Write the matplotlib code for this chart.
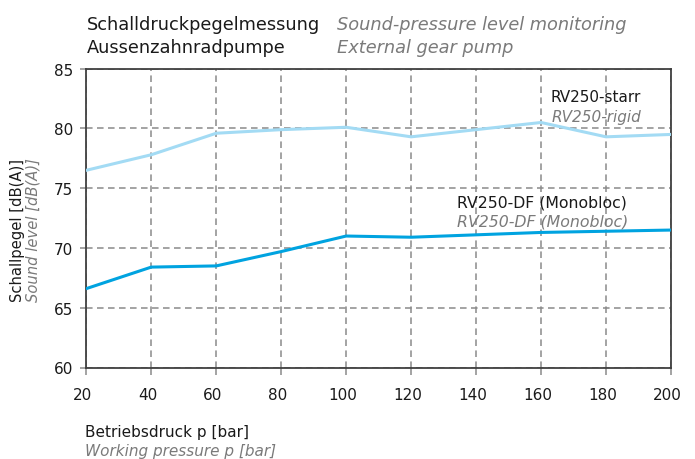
import matplotlib.pyplot as plt
from matplotlib.transforms import ScaledTranslation

plt.rcParams["font.family"] = ["DejaVu Sans"]

# pressure steps in bar
pressure = [20, 40, 60, 80, 100, 120, 140, 160, 180, 200]
# sound level, rigid mounting
rigid = [76.5, 77.8, 79.6, 79.9, 80.1, 79.3, 79.9, 80.5, 79.3, 79.5]
# sound level, DF monobloc
monobloc = [66.6, 68.4, 68.5, 69.7, 71.0, 70.9, 71.1, 71.3, 71.4, 71.5]

W, H = 695, 460
grey = "#7a7a7a"
ink = "#1a1a1a"
fs = 11

fig = plt.figure(figsize=(W / 100, H / 100), dpi=100)
ax = fig.add_axes([86.3 / W, 1 - 368.5 / H, (671 - 86.3) / W, (368.5 - 69.7) / H])

ax.plot(pressure, rigid, color="#a3dbf4", lw=2.2, zorder=3)
ax.plot(pressure, monobloc, color="#00a3e0", lw=2.2, zorder=3)

ax.set_xlim(20, 200)
ax.set_ylim(60, 85)
ax.set_xticks(range(20, 201, 20))
ax.set_yticks(range(60, 86, 5))
ax.grid(True, color="#8a8a8a", ls=(0, (4.3, 2.9)), lw=1.1)
ax.tick_params(direction="out", length=5, width=1.1, color="#8a8a8a",
               labelsize=fs, labelcolor=ink)
ax.tick_params(axis="x", pad=9)
ax.tick_params(axis="y", length=4.3, pad=5)
shift = ScaledTranslation(-3.5 / 100, 0, fig.dpi_scale_trans)
for lab in ax.get_xticklabels():
    lab.set_transform(lab.get_transform() + shift)
for s in ax.spines.values():
    s.set_color("#404040")
    s.set_linewidth(1.3)


def px(x, y):
    return x / W, 1 - y / H


# curve labels
ax.text(*px(550.7, 102.5), "RV250-starr", transform=fig.transFigure,
        fontsize=fs, color=ink, va="baseline")
ax.text(*px(551.7, 122.5), "RV250-rigid", transform=fig.transFigure,
        fontsize=fs, color=grey, va="baseline", style="italic")
ax.text(*px(456.7, 208), "RV250-DF (Monobloc)", transform=fig.transFigure,
        fontsize=11.3, color=ink, va="baseline")
ax.text(*px(456.7, 226.5), "RV250-DF (Monobloc)", transform=fig.transFigure,
        fontsize=11.3, color=grey, va="baseline", style="italic")

# titles
fig.text(*px(87, 30), "Schalldruckpegelmessung", fontsize=12.8, color=ink, va="baseline")
fig.text(*px(337.3, 30), "Sound-pressure level monitoring", fontsize=12.8,
         color=grey, va="baseline", style="italic")
fig.text(*px(87, 53.3), "Aussenzahnradpumpe", fontsize=12.8, color=ink, va="baseline")
fig.text(*px(337.3, 53.3), "External gear pump", fontsize=12.8,
         color=grey, va="baseline", style="italic")

# axis labels
fig.text(*px(22.5, 230), "Schallpegel [dB(A)]", fontsize=10.6, color=ink,
         rotation=90, rotation_mode="anchor", ha="center", va="baseline")
fig.text(*px(37.5, 230), "Sound level [dB(A)]", fontsize=10.6, color=grey,
         rotation=90, rotation_mode="anchor", ha="center", va="baseline", style="italic")
fig.text(*px(85, 436.7), "Betriebsdruck p [bar]", fontsize=fs, color=ink, va="baseline")
fig.text(*px(85, 456), "Working pressure p [bar]", fontsize=fs, color=grey,
         va="baseline", style="italic")

fig.savefig("out.png", dpi=100)
